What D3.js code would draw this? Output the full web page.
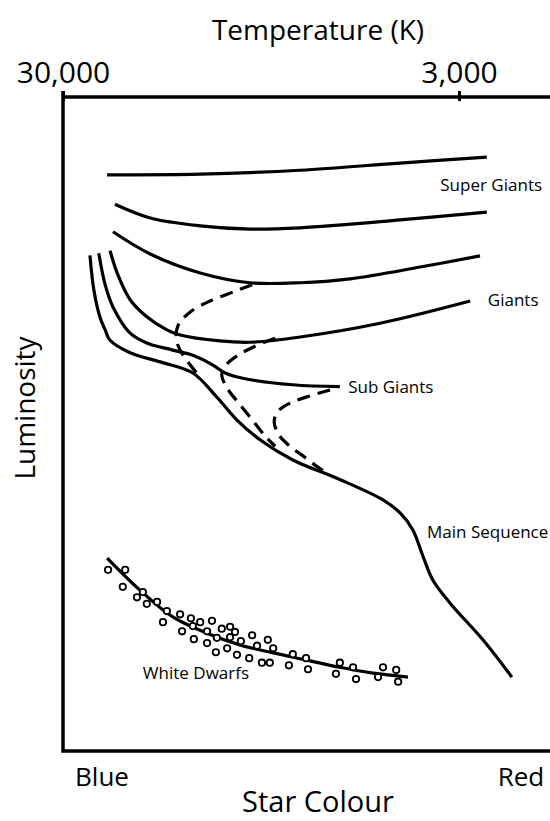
<!DOCTYPE html>
<html><head><meta charset="utf-8">
<script src="https://cdn.jsdelivr.net/npm/d3@7"></script>
<style>html,body{margin:0;padding:0;background:#fff;} svg{display:block;font-family:"Open Sans",sans-serif;}</style>
</head><body>
<svg id="c" width="550" height="821"></svg>
<script>
// ---- data (x: colour index 0=blue..100=red, y: luminosity 0..100) ----
const tempTicks = [30000, 3000];
const colourTicks = ["Blue", "Red"];
const superGiantA = [[9.0,88.1],[28.0,88.2],[48.4,88.8],[68.8,89.9],[86.5,90.8]];
const superGiantB = [[10.6,83.6],[17.8,81.5],[28.0,80.3],[38.2,79.8],[48.4,80.0],[68.8,81.2],[86.5,82.4]];
const giantA = [[10.2,79.4],[17.8,76.0],[28.0,73.1],[38.2,71.6],[48.4,71.6],[58.6,72.2],[72.9,74.0],[85.1,75.7]];
const giantB = [[9.6,76.5],[11.2,72.8],[13.7,69.0],[17.1,66.4],[21.2,64.4],[23.9,63.6],[32.0,62.7],[38.2,62.5],[48.4,63.3],[64.7,65.4],[83.1,68.8]];
const subGiant = [[7.3,76.1],[8.6,71.3],[10.2,67.9],[13.7,63.9],[17.1,62.4],[22.4,61.3],[26.5,60.5],[30.6,59.0],[33.1,57.8],[36.7,57.0],[46.9,56.0],[56.5,55.7]];
const mainSequence = [[5.5,75.8],[6.3,70.5],[7.6,66.2],[8.6,64.4],[9.6,62.8],[13.7,60.9],[19.8,59.5],[26.5,57.8],[31.4,54.1],[35.5,50.6],[40.2,47.6],[46.9,44.5],[55.9,41.7],[65.3,38.4],[68.8,36.4],[71.4,33.8],[73.5,29.7],[75.5,26.1],[79.0,22.6],[85.7,17.0],[91.6,11.3]];
const trackA = [[38.6,71.3],[35.1,70.3],[30.0,68.8],[25.9,67.1],[23.5,65.1],[23.1,63.1],[23.9,61.3],[25.5,59.5],[27.6,57.5]];
const trackB = [[43.3,63.1],[39.2,61.9],[35.7,60.5],[33.5,59.2],[32.4,57.6],[33.3,55.7],[35.3,53.7],[37.8,51.4],[39.8,49.5],[41.4,48.0],[43.3,46.6]];
const trackC = [[54.5,55.2],[50.4,54.3],[46.3,53.2],[43.7,51.8],[43.1,50.3],[44.1,48.3],[46.3,46.6],[49.2,45.0],[52.0,43.4],[54.1,42.4]];
const whiteDwarfLine = [[9.0,29.5],[15.7,24.6],[22.4,20.5],[29.4,18.0],[36.1,16.2],[42.9,15.0],[49.8,13.9],[56.5,12.8],[63.3,11.9],[70.4,11.3]];
const whiteDwarfStars = [[9.2,27.7],[12.7,27.7],[12.2,25.1],[16.3,24.3],[15.1,23.5],[19.2,22.8],[17.1,22.5],[21.2,21.4],[20.4,19.7],[23.9,20.9],[26.1,20.3],[28.0,19.7],[26.5,19.1],[30.4,19.9],[24.3,18.3],[29.4,18.3],[32.4,18.7],[34.1,19.0],[35.1,18.2],[26.7,17.1],[31.4,17.3],[34.1,17.4],[36.3,16.8],[29.4,16.5],[38.6,17.7],[41.8,17.0],[39.6,16.1],[42.9,15.7],[31.2,15.1],[33.5,15.7],[35.5,14.7],[38.0,14.2],[40.6,13.5],[42.2,13.5],[46.9,14.8],[49.6,14.2],[46.1,13.1],[50.0,12.5],[56.5,13.5],[59.2,12.8],[55.7,11.8],[59.8,11.0],[65.3,12.8],[68.0,12.4],[64.3,11.3],[68.4,10.6]];
const regionLabels = ["Super Giants", "Giants", "Sub Giants", "Main Sequence", "White Dwarfs"];
const regionLabelPos = [[77.0,85.7],[86.7,68.0],[58.2,54.7],[74.3,32.6],[16.3,11.0]];

// ---- scales ----
const svg = d3.select("#c");
const L = 63, R = 553, T = 97, B = 751;
const x = d3.scaleLinear().domain([0,100]).range([L,R]);
const y = d3.scaleLinear().domain([0,100]).range([B,T]);
const tScale = d3.scaleLog().domain([30000,3000]).range([L,459]);
const cScale = d3.scalePoint().domain(colourTicks).range([102,521]);

const line = d3.line().x(d=>x(d[0])).y(d=>y(d[1])).curve(d3.curveCatmullRom.alpha(0.5));

// frame
svg.append("path").attr("d", `M${L},${T}H${R+5}M${L},${T-6}V${B}H${R+5}`)
  .attr("fill","none").attr("stroke","#000").attr("stroke-width",3.5);

// top temperature axis
const ax = svg.append("g").attr("transform",`translate(0,${T})`)
  .call(d3.axisTop(tScale).tickValues(tempTicks).tickFormat(d3.format(",")).tickSizeOuter(0));
ax.select(".domain").remove();
ax.selectAll(".tick line").attr("y1",4).attr("y2",-6).attr("stroke-width",3);
ax.selectAll(".tick text").attr("y",-14).attr("dy",0).attr("font-size",30)
  .attr("font-family","Open Sans").attr("fill","#000");

svg.append("text").attr("x",318).attr("y",40).attr("text-anchor","middle")
  .attr("font-size",28).text("Temperature (K)");

// bottom colour labels
svg.selectAll(".ct").data(colourTicks).enter().append("text")
  .attr("x",d=>cScale(d)).attr("y",786).attr("text-anchor","middle")
  .attr("font-size",26).text(d=>d);
svg.append("text").attr("x",318).attr("y",812).attr("text-anchor","middle")
  .attr("font-size",29).text("Star Colour");
svg.append("text").attr("transform","translate(35,408) rotate(-90)")
  .attr("text-anchor","middle").attr("font-size",28).text("Luminosity");

// curves
const solid = [superGiantA, superGiantB, giantA, giantB, subGiant, mainSequence, whiteDwarfLine];
svg.selectAll(".solid").data(solid).enter().append("path")
  .attr("d",line).attr("fill","none").attr("stroke","#000").attr("stroke-width",3.2);
svg.selectAll(".dash").data([trackA, trackB, trackC]).enter().append("path")
  .attr("d",line).attr("fill","none").attr("stroke","#000").attr("stroke-width",3.2)
  .attr("stroke-dasharray","13,8");

// white dwarf stars
svg.selectAll(".wd").data(whiteDwarfStars).enter().append("circle")
  .attr("cx",d=>x(d[0])).attr("cy",d=>y(d[1])).attr("r",3.2)
  .attr("fill","#fff").attr("stroke","#000").attr("stroke-width",1.8);

// region labels
svg.selectAll(".rl").data(regionLabels).enter().append("text")
  .attr("x",(d,i)=>x(regionLabelPos[i][0])).attr("y",(d,i)=>y(regionLabelPos[i][1]))
  .attr("font-size",17).text(d=>d);
</script>
</body></html>
